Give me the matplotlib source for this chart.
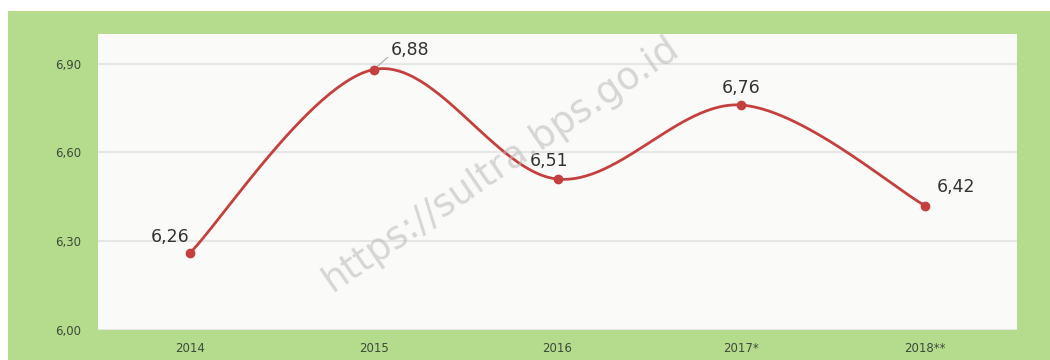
import matplotlib
matplotlib.use("Agg")
import matplotlib.pyplot as plt
import numpy as np
from matplotlib.patches import Rectangle

years = ["2014", "2015", "2016", "2017*", "2018**"]
values = [6.26, 6.88, 6.51, 6.76, 6.42]
labels = ["6,26", "6,88", "6,51", "6,76", "6,42"]
yticks = [6.00, 6.30, 6.60, 6.90]
ytick_labels = ["6,00", "6,30", "6,60", "6,90"]

green = "#b4dc8c"
red = "#c4403f"


def smooth(xs, ys, n=60):
    # Catmull-Rom style curve through the points (like Excel's smoothed line)
    px = [xs[0]] + list(xs) + [xs[-1]]
    py = [ys[0]] + list(ys) + [ys[-1]]
    ox, oy = [], []
    for i in range(1, len(px) - 2):
        p0 = np.array([px[i], py[i]])
        p3 = np.array([px[i + 1], py[i + 1]])
        c1 = p0 + (np.array([px[i + 1], py[i + 1]]) - np.array([px[i - 1], py[i - 1]])) / 6
        c2 = p3 - (np.array([px[i + 2], py[i + 2]]) - np.array([px[i], py[i]])) / 6
        t = np.linspace(0, 1, n)[:, None]
        b = ((1 - t) ** 3) * p0 + 3 * ((1 - t) ** 2) * t * c1 + 3 * (1 - t) * t ** 2 * c2 + t ** 3 * p3
        ox.extend(b[:, 0])
        oy.extend(b[:, 1])
    return ox, oy


fig = plt.figure(figsize=(10.5, 3.6), dpi=100)
fig.patch.set_facecolor("white")
fig.patches.append(Rectangle((8 / 1050, 0), 1, 349 / 360, transform=fig.transFigure,
                             facecolor=green, edgecolor="none", zorder=-1))

ax = fig.add_axes([98 / 1050, 30 / 360, 919 / 1050, 296 / 360])
ax.set_zorder(1)
ax.set_facecolor("#fafbf8")
x = np.arange(len(years))
sx, sy = smooth(x, values)
ax.plot(sx, sy, color=red, lw=2.0, zorder=3)
ax.scatter(x, values, s=36, color=red, zorder=4)

ax.set_xlim(-0.5, 4.5)
ax.set_ylim(6.0, 7.0)
ax.set_yticks(yticks)
ax.set_yticklabels(ytick_labels)
ax.set_xticks(x)
ax.set_xticklabels(years)
ax.grid(axis="y", color="#e6e6e6", lw=1.5)
ax.set_axisbelow(True)
for s in ax.spines.values():
    s.set_visible(False)
ax.tick_params(length=0, labelsize=8.5, colors="#3f4a3c", pad=12)
ax.tick_params(axis="x", pad=9)

offsets = [(-20, 16), (36, 20), (-8, 18), (0, 17), (31, 19)]
for xi, v, lab, off in zip(x, values, labels, offsets):
    ax.annotate(lab, (xi, v), textcoords="offset pixels", xytext=off,
                ha="center", va="center", fontsize=12.5, color="#333333", zorder=5)
# leader line for 6,88
ax.annotate("", (1, 6.88), xytext=(16, 14), textcoords="offset pixels",
            arrowprops=dict(arrowstyle="-", color="#aaaaaa", lw=0.8))

fig.text(332 / 1050, (360 - 292) / 360, "https://sultra.bps.go.id", rotation=34.5,
         rotation_mode="anchor", fontsize=27,
         color="#b8b8b8", alpha=0.55, ha="left", va="baseline", zorder=10)

fig.savefig("out.png", dpi=100)
